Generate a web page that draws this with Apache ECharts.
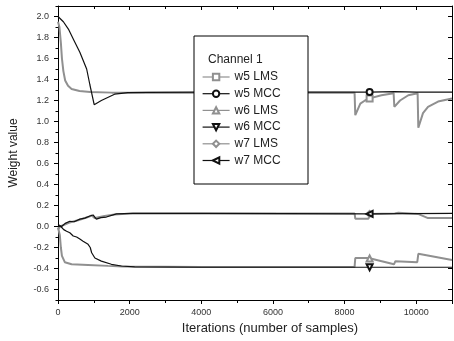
<!DOCTYPE html>
<html>
<head>
<meta charset="utf-8">
<script src="https://cdn.jsdelivr.net/npm/echarts@6/dist/echarts.min.js"></script>
<style>
  html, body { margin: 0; padding: 0; background: #fff; }
  #chart { width: 454px; height: 341px; }
</style>
</head>
<body>
<div id="chart"></div>
<script>
// x ticks every 2000, y labels every 0.2
var yMajor = [-0.6, -0.4, -0.2, 0.0, 0.2, 0.4, 0.6, 0.8, 1.0, 1.2, 1.4, 1.6, 1.8, 2.0];
var yMinor = [-0.7, -0.5, -0.3, -0.1, 0.1, 0.3, 0.5, 0.7, 0.9, 1.1, 1.3, 1.5, 1.7, 1.9, 2.1];
var markerX = 8700;

// w5
var w5LmsX = [0, 40, 80, 110, 150, 200, 280, 380, 600, 900, 1500, 4000, 6000, 8280, 8300, 8440, 8570, 8700, 9030, 9370, 9390, 9550, 9780, 10040, 10060, 10190, 10330, 10610, 11000];
var w5LmsY = [1.95, 1.9, 1.75, 1.6, 1.48, 1.39, 1.34, 1.31, 1.29, 1.28, 1.275, 1.275, 1.275, 1.275, 1.06, 1.17, 1.2, 1.22, 1.25, 1.27, 1.14, 1.2, 1.25, 1.27, 0.94, 1.08, 1.14, 1.19, 1.22];
var w5MccX = [0, 150, 290, 450, 610, 800, 890, 1010, 1210, 1580, 1950, 2500, 4000, 6000, 8700, 9400, 10000, 11000];
var w5MccY = [2.0, 1.95, 1.88, 1.77, 1.66, 1.5, 1.35, 1.16, 1.2, 1.26, 1.275, 1.278, 1.28, 1.28, 1.28, 1.285, 1.28, 1.28];

// w6
var w6LmsX = [0, 50, 80, 110, 190, 380, 840, 1400, 1800, 4000, 8280, 8300, 8670, 8700, 9380, 9420, 10030, 10060, 11000];
var w6LmsY = [-0.01, -0.08, -0.2, -0.28, -0.34, -0.36, -0.367, -0.375, -0.38, -0.385, -0.385, -0.3, -0.3, -0.305, -0.36, -0.33, -0.34, -0.26, -0.32];
var w6MccX = [0, 80, 160, 240, 330, 425, 520, 610, 700, 840, 900, 940, 1030, 1210, 1490, 1770, 2140, 4000, 8700, 11000];
var w6MccY = [0.0, 0.0, -0.03, -0.045, -0.06, -0.09, -0.1, -0.12, -0.14, -0.17, -0.2, -0.25, -0.3, -0.33, -0.36, -0.376, -0.385, -0.388, -0.388, -0.388];

// w7
var w7LmsX = [0, 60, 300, 560, 840, 940, 1030, 1300, 1580, 2100, 4000, 8280, 8300, 8670, 8700, 9400, 9420, 9500, 10050, 10330, 11000];
var w7LmsY = [-0.03, 0.0, 0.035, 0.06, 0.09, 0.105, 0.08, 0.1, 0.115, 0.125, 0.125, 0.125, 0.075, 0.075, 0.12, 0.125, 0.14, 0.13, 0.12, 0.08, 0.08];
var w7MccX = [0, 100, 200, 330, 450, 610, 750, 890, 980, 1070, 1200, 1350, 1630, 2090, 4000, 8700, 11000];
var w7MccY = [0.02, 0.0, 0.03, 0.05, 0.045, 0.07, 0.08, 0.1, 0.11, 0.07, 0.085, 0.09, 0.12, 0.125, 0.125, 0.12, 0.125];

var GRAY = "#909090";
var BLACK = "#111";

function pairs(xs, ys) {
  return xs.map(function(x, i) {
    return [x, ys[i]];
  });
}

function line(name, xs, ys, color, symbol, rotate, width, z) {
  return {
    name: name,
    type: "line",
    data: pairs(xs, ys),
    symbol: symbol,
    symbolRotate: rotate,
    symbolSize: function(val) {
      return val[0] === markerX ? 6 : 0;
    },
    showSymbol: true,
    showAllSymbol: true,
    itemStyle: { color: color, borderWidth: 1 },
    lineStyle: { color: color, width: width },
    z: z,
    animation: false
  };
}

var chart = echarts.init(document.getElementById("chart"));
var labelFont = { fontFamily: "Liberation Sans", fontSize: 9, color: "#333" };

chart.setOption({
  backgroundColor: "#fff",
  grid: { left: 58, right: 2, top: 6, bottom: 41 },
  graphic: [
    {
      type: "rect",
      shape: { x: 194, y: 36, width: 114, height: 148 },
      style: { fill: "#fff", stroke: "#000", lineWidth: 1 },
      z: 50
    },
    {
      type: "text",
      x: 208,
      y: 54,
      style: { text: "Channel 1", font: "12px Liberation Sans", fill: "#222" },
      z: 51
    }
  ],
  legend: {
    orient: "vertical",
    left: 202,
    top: 71,
    padding: 0,
    itemWidth: 27,
    itemHeight: 8,
    itemGap: 4.7,
    z: 52,
    lineStyle: { width: 1.2 },
    itemStyle: { borderWidth: 1 },
    textStyle: { fontFamily: "Liberation Sans", fontSize: 12, color: "#222" },
    data: ["w5 LMS", "w5 MCC", "w6 LMS", "w6 MCC", "w7 LMS", "w7 MCC"]
  },
  xAxis: [
    {
      type: "value",
      min: 0,
      max: 11000,
      interval: 2000,
      name: "Iterations (number of samples)",
      nameLocation: "middle",
      nameGap: 18,
      nameTextStyle: { fontFamily: "Liberation Sans", fontSize: 13, color: "#222", padding: [0, 0, 0, 30] },
      axisLine: { onZero: false, lineStyle: { color: "#000", width: 1 } },
      axisTick: { length: 4, lineStyle: { color: "#000" } },
      minorTick: { show: true, splitNumber: 2, length: 3, lineStyle: { color: "#000" } },
      axisLabel: Object.assign({
        margin: 8,
        showMaxLabel: false,
        formatter: function(v) { return String(v); }
      }, labelFont),
      splitLine: { show: false }
    },
    {
      type: "value",
      position: "top",
      min: 0,
      max: 11000,
      interval: 2000,
      axisLine: { onZero: false, lineStyle: { color: "#000", width: 1 } },
      axisTick: { inside: true, length: 4, lineStyle: { color: "#000" } },
      minorTick: { show: true, splitNumber: 2, length: 3, lineStyle: { color: "#000" } },
      axisLabel: { show: false },
      splitLine: { show: false }
    }
  ],
  yAxis: [
    {
      type: "value",
      min: -0.7,
      max: 2.1,
      name: "Weight value",
      nameLocation: "middle",
      nameGap: 38,
      nameTextStyle: { fontFamily: "Liberation Sans", fontSize: 12, color: "#222" },
      axisLine: { show: true, onZero: false, lineStyle: { color: "#000", width: 1 } },
      axisTick: { show: true, length: 4, customValues: yMajor, lineStyle: { color: "#000" } },
      axisLabel: Object.assign({
        margin: 9,
        customValues: yMajor,
        formatter: function(v) { return v.toFixed(1); }
      }, labelFont),
      splitLine: { show: false }
    },
    {
      type: "value",
      min: -0.7,
      max: 2.1,
      position: "left",
      axisLine: { show: false, onZero: false },
      axisTick: { show: true, length: 2.5, customValues: yMinor, lineStyle: { color: "#000" } },
      axisLabel: { show: false },
      splitLine: { show: false }
    },
    {
      type: "value",
      min: -0.7,
      max: 2.1,
      position: "right",
      axisLine: { show: true, onZero: false, lineStyle: { color: "#000", width: 1 } },
      axisTick: { show: true, inside: true, length: 4, customValues: yMajor, lineStyle: { color: "#000" } },
      axisLabel: { show: false },
      splitLine: { show: false }
    }
  ],
  series: [
    line("w5 LMS", w5LmsX, w5LmsY, GRAY, "emptyRect", 0, 2, 2),
    line("w5 MCC", w5MccX, w5MccY, BLACK, "emptyCircle", 0, 1.2, 3),
    line("w6 LMS", w6LmsX, w6LmsY, GRAY, "emptyTriangle", 0, 2, 2),
    line("w6 MCC", w6MccX, w6MccY, BLACK, "emptyTriangle", 180, 1.2, 3),
    line("w7 LMS", w7LmsX, w7LmsY, GRAY, "emptyDiamond", 0, 2, 2),
    line("w7 MCC", w7MccX, w7MccY, BLACK, "emptyTriangle", 90, 1.2, 3)
  ]
});
</script>
</body>
</html>
